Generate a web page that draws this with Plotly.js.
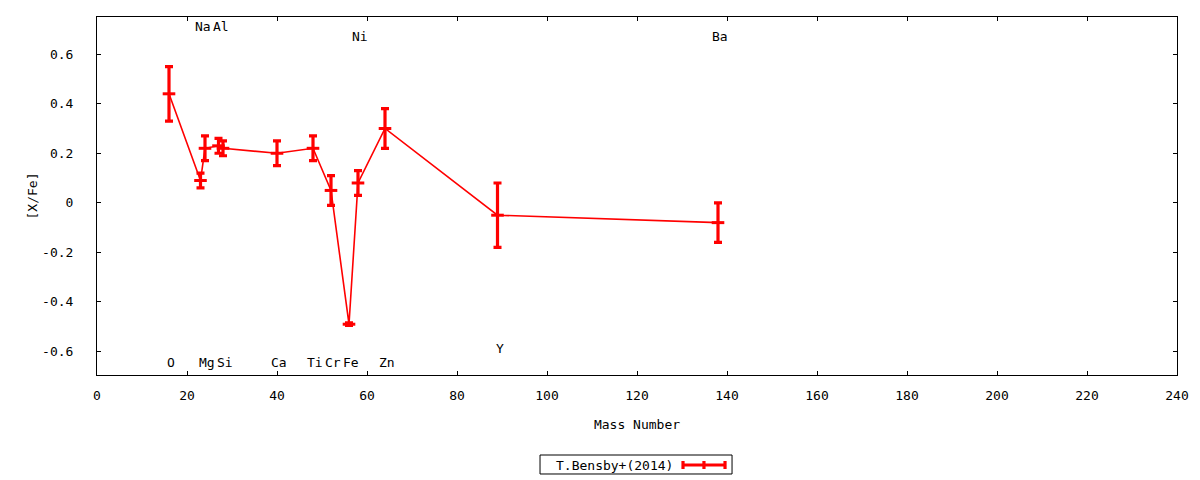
<!DOCTYPE html>
<html>
<head>
<meta charset="utf-8">
<script src="https://cdn.plot.ly/plotly-3.0.1.min.js"></script>
<style>html,body{margin:0;padding:0;background:#fff;}#chart{width:1200px;height:480px;}</style>
</head>
<body>
<div id="chart"></div>
<script>
// Data
const elements   = ["O", "Na", "Mg", "Al", "Si", "Ca", "Ti", "Cr", "Fe", "Ni", "Zn", "Y", "Ba"];
const massNumber = [16, 23, 24, 27, 28, 40, 48, 52, 56, 58, 64, 89, 138];
const xFe        = [0.44, 0.09, 0.22, 0.23, 0.22, 0.20, 0.22, 0.05, -0.49, 0.08, 0.30, -0.05, -0.08];
const xFeErr     = [0.11, 0.03, 0.05, 0.03, 0.03, 0.05, 0.05, 0.06, 0.005, 0.05, 0.08, 0.13, 0.08];
const labelY     = [-0.645, 0.71, -0.645, 0.71, -0.645, -0.645, -0.645, -0.645, -0.645, 0.67, -0.645, -0.59, 0.67];
const seriesName = "T.Bensby+(2014)";
const xTickVals  = [0, 20, 40, 60, 80, 100, 120, 140, 160, 180, 200, 220, 240];
const yTickVals  = [-0.6, -0.4, -0.2, 0, 0.2, 0.4, 0.6];
const yTickText  = ["-0.6", "-0.4", "-0.2", "0", "0.2", "0.4", "0.6"];

const FONT = "DejaVu Sans Mono, monospace";
const RED = "#ff0000";

const trace = {
  type: "scatter",
  mode: "lines+markers",
  name: seriesName,
  x: massNumber,
  y: xFe,
  line: {color: RED, width: 1.6},
  marker: {symbol: "line-ew-open", size: 9, color: RED, line: {color: RED, width: 3}},
  error_y: {type: "data", array: xFeErr, visible: true, color: RED, thickness: 3.2, width: 4},
  showlegend: false,
  hoverinfo: "x+y"
};

const annotations = elements.map((el, i) => ({
  x: massNumber[i], y: labelY[i], xref: "x", yref: "y",
  text: el, showarrow: false, xshift: 2,
  font: {family: FONT, size: 13, color: "#000"}
}));

// legend (gnuplot style: text then sample, in a box)
annotations.push({
  xref: "paper", yref: "paper", x: 0.4792, y: -0.2514,
  text: seriesName, showarrow: false, xanchor: "center", yanchor: "middle",
  font: {family: FONT, size: 13, color: "#000"}
});

const legShapes = [
  {type: "rect", xref: "paper", yref: "paper", x0: 0.4102, x1: 0.5880, y0: -0.2235, y1: -0.2765,
   line: {color: "#000", width: 1}, fillcolor: "rgba(0,0,0,0)"},
  {type: "line", xref: "paper", yref: "paper", x0: 0.5426, x1: 0.5815, y0: -0.2514, y1: -0.2514,
   line: {color: RED, width: 3.2}},
  {type: "line", xref: "paper", yref: "paper", x0: 0.5426, x1: 0.5426, y0: -0.2402, y1: -0.2626,
   line: {color: RED, width: 3.2}},
  {type: "line", xref: "paper", yref: "paper", x0: 0.5815, x1: 0.5815, y0: -0.2402, y1: -0.2626,
   line: {color: RED, width: 3.2}},
  {type: "line", xref: "paper", yref: "paper", x0: 0.5620, x1: 0.5620, y0: -0.2402, y1: -0.2626,
   line: {color: RED, width: 3.2}}
];

const layout = {
  width: 1200, height: 480,
  margin: {l: 97, r: 23, t: 17, b: 105},
  paper_bgcolor: "#fff", plot_bgcolor: "#fff",
  font: {family: FONT, size: 13, color: "#000"},
  showlegend: false,
  xaxis: {
    range: [0, 240], tickvals: xTickVals,
    showgrid: false, zeroline: false,
    showline: true, linecolor: "#000", linewidth: 1, mirror: "ticks",
    ticks: "inside", ticklen: 4, tickcolor: "#000", tickwidth: 1,
    ticklabelstandoff: 8,
    tickfont: {family: FONT, size: 13, color: "#000"},
    title: {text: "Mass Number", font: {family: FONT, size: 13, color: "#000"}, standoff: 18}
  },
  yaxis: {
    range: [-0.695, 0.75], tickvals: yTickVals, ticktext: yTickText,
    showgrid: false, zeroline: false,
    showline: true, linecolor: "#000", linewidth: 1, mirror: "ticks",
    ticks: "inside", ticklen: 4, tickcolor: "#000", tickwidth: 1,
    ticklabelstandoff: 20,
    tickfont: {family: FONT, size: 13, color: "#000"},
    title: {text: "[X/Fe]", font: {family: FONT, size: 13, color: "#000"}, standoff: 1}
  },
  annotations: annotations,
  shapes: legShapes
};

Plotly.newPlot("chart", [trace], layout, {displayModeBar: false, staticPlot: true});
</script>
</body>
</html>
